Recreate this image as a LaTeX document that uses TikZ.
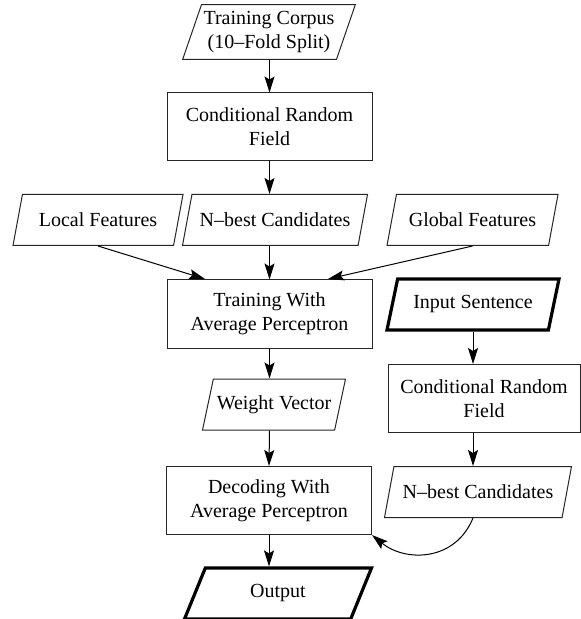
\documentclass[tikz,border=0pt]{standalone}
\usepackage{fontspec}
\setmainfont{Liberation Serif}
\usetikzlibrary{shapes.geometric,arrows.meta}

\begin{document}
\begin{tikzpicture}[x=0.5pt, y=-0.5pt,
  box/.style={rectangle, draw=black!85, line width=0.5pt, minimum width=102.5pt, minimum height=34pt, align=center, font=\fontsize{10}{12}\selectfont},
  para/.style={trapezium, trapezium left angle=71, trapezium right angle=109, trapezium stretches body, draw=black!85, line width=0.5pt, minimum height=25.5pt, inner xsep=1pt, align=center, font=\fontsize{10}{12}\selectfont},
  iopara/.style={para, draw=black, line width=1.6pt},
  wire/.style={-{Stealth[length=8pt,width=5pt,inset=1.5pt]}, line width=0.5pt}
]
\useasboundingbox (0,0) rectangle (581,619);

% Training branch
\node[para, minimum width=85pt] (corpus) at (269,32) {Training Corpus\\(10--Fold Split)};
\node[box] (crf) at (269.5,127) {Conditional Random\\Field};

\node[para, minimum width=85pt] (local) at (98,220) {Local Features};
\node[para, minimum width=92.5pt] (nbest) at (275,220) {N--best Candidates};
\node[para, minimum width=85.5pt] (global) at (472.5,220) {Global Features};

\node[box] (train) at (269.5,314) {Training With\\Average Perceptron};
\node[para, minimum width=71.5pt] (weight) at (274,404.5) {Weight Vector};
\node[box] (decode) at (269,500.5) {Decoding With\\Average Perceptron};
\node[iopara, minimum width=93.5pt, trapezium left angle=56, trapezium right angle=124] (output) at (278,593.5) {Output};

% Input branch
\node[iopara, minimum width=86pt] (input) at (473,304.5) {Input Sentence};
\node[box, minimum width=96pt] (crfin) at (484,398.5) {Conditional Random\\Field};
\node[para, minimum width=93.5pt] (nbestin) at (478,492) {N--best Candidates};

% Wires
\draw[wire] (corpus.south -| crf) -- (crf.north);
\draw[wire] (crf.south) -- (crf.south |- nbest.north);
\draw[wire] (local.south) -- (205,279);
\draw[wire] (crf.south |- nbest.south) -- (train.north);
\draw[wire] (global.south) -- (328,279);
\draw[wire] (train.south) -- (train.south |- weight.north);
\draw[wire] (train.south |- weight.south) -- (decode.north);
\draw[wire] (decode.south) -- (decode.south |- output.north);
\draw[wire] (input.south) -- (input.south |- crfin.north);
\draw[wire] (input.south |- crfin.south) -- (input.south |- nbestin.north);
\draw[wire] (input.south |- nbestin.south) .. controls (455,562) and (405,562) .. (decode.south east);

\end{tikzpicture}
\end{document}
